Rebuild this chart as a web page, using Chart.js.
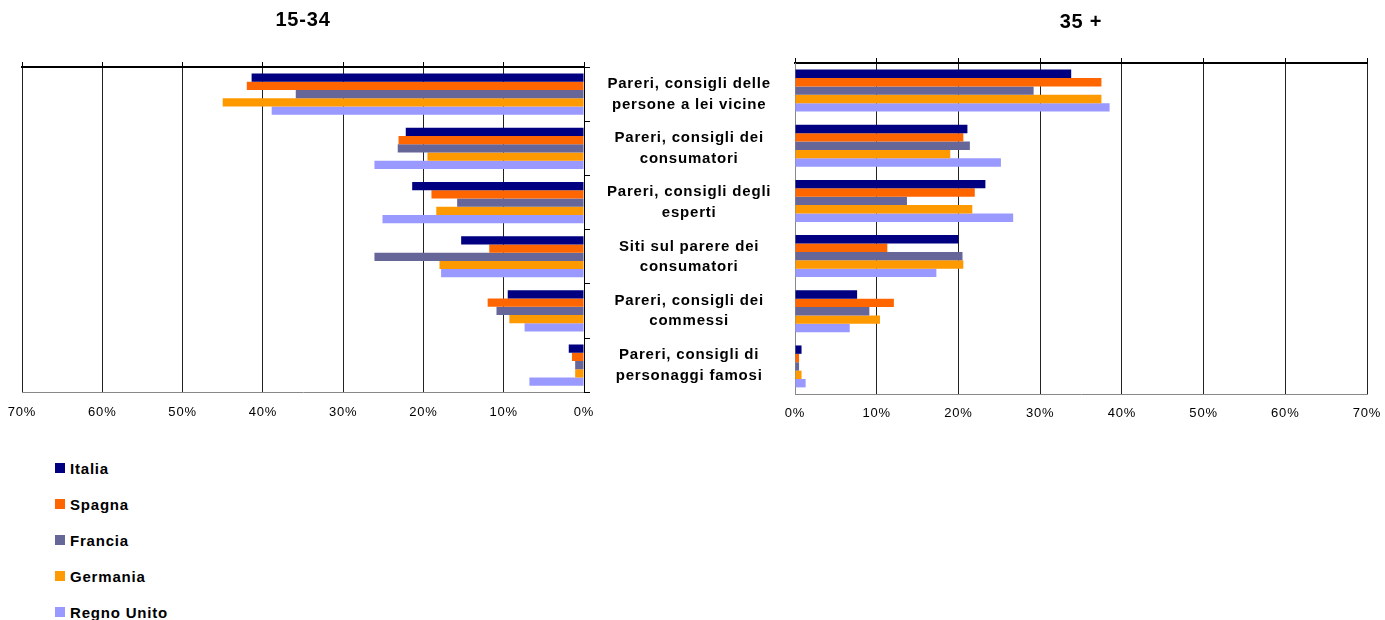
<!DOCTYPE html>
<html>
<head>
<meta charset="utf-8">
<script src="https://cdn.jsdelivr.net/npm/chart.js@4/dist/chart.umd.min.js"></script>
<style>
  html, body { margin: 0; padding: 0; background: #fff; }
  body { width: 1385px; height: 620px; position: relative; overflow: hidden; font-family: "Liberation Sans", Arial, sans-serif; }
  #young { position: absolute; left: 0; top: 0; }
  #older { position: absolute; left: 780px; top: 0; }
  #legend { position: absolute; left: 55px; top: 450px; margin: 0; padding: 0; list-style: none; }
  #legend li { height: 36px; display: flex; align-items: center; font-weight: bold; font-size: 15px; letter-spacing: 0.8px; color: #000; }
  #legend span { display: inline-block; width: 10px; height: 10px; margin-right: 5px; }
</style>
</head>
<body>
<canvas id="young" width="800" height="430"></canvas>
<canvas id="older" width="605" height="430"></canvas>
<ul id="legend"></ul>
<script>
const categories = [
  ["Pareri, consigli delle", "persone a lei vicine"],
  ["Pareri, consigli dei", "consumatori"],
  ["Pareri, consigli degli", "esperti"],
  ["Siti sul parere dei", "consumatori"],
  ["Pareri, consigli dei", "commessi"],
  ["Pareri, consigli di", "personaggi famosi"]
];
const countries = ["Italia", "Spagna", "Francia", "Germania", "Regno Unito"];
const colors = ["#000080", "#FF6600", "#666699", "#FF9900", "#9999FF"];

// 15-34
const youngItalia = [41.4, 22.2, 21.4, 15.3, 9.5, 1.9];
const youngSpagna = [42.0, 23.1, 19.0, 11.8, 12.0, 1.5];
const youngFrancia = [35.9, 23.2, 15.8, 26.1, 10.9, 1.1];
const youngGermania = [45.0, 19.5, 18.4, 18.0, 9.3, 1.1];
const youngRegnoUnito = [38.9, 26.1, 25.1, 17.8, 7.4, 6.8];

// 35 +
const olderItalia = [33.8, 21.1, 23.3, 20.0, 7.6, 0.8];
const olderSpagna = [37.5, 20.6, 22.0, 11.3, 12.1, 0.5];
const olderFrancia = [29.2, 21.4, 13.7, 20.5, 9.1, 0.5];
const olderGermania = [37.5, 19.0, 21.7, 20.6, 10.4, 0.8];
const olderRegnoUnito = [38.5, 25.2, 26.7, 17.3, 6.7, 1.3];

const axisMax = 70;
const axisStep = 10;

const FONT = "'Liberation Sans', Arial, sans-serif";

// canvas has no css letter-spacing, so set it on the context before measuring and drawing
const spacing = {
  id: "spacing",
  beforeLayout(chart) { chart.ctx.letterSpacing = "0.8px"; },
  beforeDraw(chart) { chart.ctx.letterSpacing = "0.8px"; }
};

function datasets(series) {
  return series.map((data, i) => ({
    label: countries[i],
    data,
    backgroundColor: colors[i],
    borderWidth: 0,
    barPercentage: 1,
    categoryPercentage: 0.76
  }));
}

// fixed box sizes; the end labels may hang into the layout padding
function fixHeight(h) {
  return (s) => {
    s.height = h;
    s.paddingLeft = 0;
    s.paddingRight = 0;
  };
}

function xScales(reverse, bottomH, topH) {
  return {
    x: {
      type: "linear",
      min: 0,
      max: axisMax,
      reverse,
      afterFit: fixHeight(bottomH),
      ticks: {
        stepSize: axisStep,
        color: "#000",
        padding: 12,
        font: { family: FONT, size: 13 },
        callback: (v) => v + "%"
      },
      grid: { color: "#222", drawTicks: false },
      border: { color: "#888" }
    },
    x2: {
      type: "linear",
      position: "top",
      min: 0,
      max: axisMax,
      reverse,
      afterFit: fixHeight(topH),
      ticks: { stepSize: axisStep, display: false },
      grid: { drawOnChartArea: false, drawTicks: true, tickLength: 5, color: "#000" },
      border: { color: "#000", width: 2 }
    }
  };
}

function titleOpts(text, top) {
  return {
    display: true,
    text,
    fullSize: false,
    color: "#000",
    font: { family: FONT, size: 20, weight: "bold" },
    padding: { top, bottom: 0 }
  };
}

const young = new Chart(document.getElementById("young"), {
  type: "bar",
  data: {
    labels: categories,
    datasets: datasets([youngItalia, youngSpagna, youngFrancia, youngGermania, youngRegnoUnito])
  },
  options: {
    indexAxis: "y",
    responsive: false,
    animation: false,
    layout: { padding: { left: 22, right: 0, top: 0, bottom: 0 } },
    plugins: {
      legend: { display: false },
      tooltip: { enabled: false },
      title: titleOpts("15-34", 8)
    },
    scales: Object.assign(xScales(true, 37, 35), {
      y: {
        type: "category",
        position: "right",
        afterFit: (s) => { s.width = 216; },
        ticks: {
          autoSkip: false,
          crossAlign: "center",
          padding: 17,
          color: "#000",
          font: { family: FONT, size: 15, weight: "bold", lineHeight: 1.38 }
        },
        grid: { drawOnChartArea: false, drawTicks: true, tickLength: 6, color: "#000", offset: true },
        border: { color: "#000" }
      }
    })
  },
  plugins: [spacing]
});

new Chart(document.getElementById("older"), {
  type: "bar",
  data: {
    labels: categories,
    datasets: datasets([olderItalia, olderSpagna, olderFrancia, olderGermania, olderRegnoUnito])
  },
  options: {
    indexAxis: "y",
    responsive: false,
    animation: false,
    layout: { padding: { left: 15, right: 18, top: 0, bottom: 0 } },
    plugins: {
      legend: { display: false },
      tooltip: { enabled: false },
      title: titleOpts("35 +", 10)
    },
    scales: Object.assign(xScales(false, 36, 29), {
      y: {
        type: "category",
        position: "left",
        afterFit: (s) => { s.width = 0; },
        ticks: { display: false },
        grid: { drawOnChartArea: false, drawTicks: false },
        border: { color: "#888" }
      }
    })
  },
  plugins: [spacing]
});

// legend built from the first chart's datasets
const legend = document.getElementById("legend");
young.data.datasets.forEach((ds) => {
  const li = document.createElement("li");
  const box = document.createElement("span");
  box.style.background = ds.backgroundColor;
  li.appendChild(box);
  li.appendChild(document.createTextNode(ds.label));
  legend.appendChild(li);
});
</script>
</body>
</html>
